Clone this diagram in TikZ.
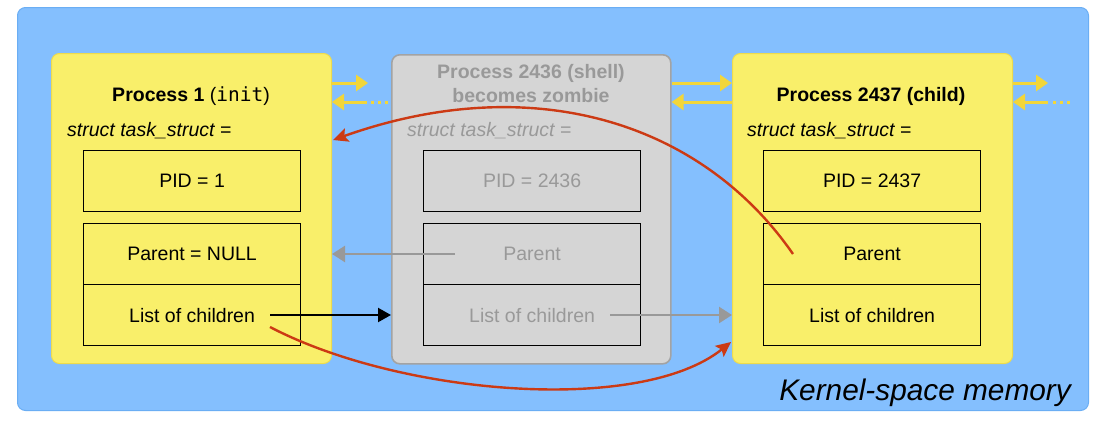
\documentclass[tikz,border=0pt]{standalone}
\usepackage{fontspec}
\setmainfont{Liberation Sans}
\setmonofont{DejaVu Sans Mono}
\usetikzlibrary{arrows.meta}
\definecolor{kblue}{HTML}{84BFFE}
\definecolor{kblueD}{HTML}{6BAEF4}
\definecolor{pyel}{HTML}{F9EF6A}
\definecolor{pyelD}{HTML}{EEDB4C}
\definecolor{yarr}{HTML}{F2D63A}
\definecolor{zgray}{HTML}{D5D5D5}
\definecolor{zgrayD}{HTML}{A3A3A3}
\definecolor{ztext}{HTML}{999999}
\definecolor{rarr}{HTML}{CC3A14}
\tikzset{
  outerbox/.style={fill=kblue, draw=kblueD, line width=1pt, rounded corners=8pt},
  procbox/.style={fill=pyel, draw=pyelD, line width=1pt, rounded corners=8pt, anchor=north west, minimum width=280pt, minimum height=310pt, inner sep=0pt},
  zombiebox/.style={fill=zgray, draw=zgrayD, line width=1.6pt, rounded corners=8pt, anchor=north west, minimum width=279pt, minimum height=309pt, inner sep=0pt},
  field/.style={draw=black, line width=1.2pt, minimum width=217pt, minimum height=61pt, anchor=north west, inner sep=0pt, font=\fontsize{19.5}{23}\selectfont},
  title/.style={font=\fontsize{19.5}{23}\selectfont\bfseries, align=center},
  structlbl/.style={anchor=west, font=\fontsize{19.5}{23}\selectfont\itshape, inner sep=0pt},
  yarrow/.style={draw=yarr, line width=3pt, -{Triangle[length=12pt,width=16pt]}},
  ydots/.style={draw=yarr, line width=3pt, dash pattern=on 3pt off 4pt},
  redarrow/.style={draw=rarr, line width=2.4pt, -{Stealth[length=15pt,width=14pt,inset=3pt]}},
  grayarrow/.style={draw=ztext, line width=2.5pt, -{Triangle[length=13pt,width=16pt]}},
  blackarrow/.style={draw=black, line width=2.2pt, -{Triangle[length=13pt,width=14pt]}},
}
\begin{document}
\begin{tikzpicture}[x=1pt,y=-1pt]
\useasboundingbox (0,0) rectangle (1097,423);
% outer kernel-space area
\node[outerbox, anchor=north west, minimum width=1071pt, minimum height=403pt, inner sep=0pt] (kernel) at (17,7) {};
\node[anchor=base east, font=\fontsize{29.8}{34}\selectfont\itshape, inner sep=0pt] (klabel) at (1071,400) {Kernel-space memory};

% process boxes
\node[procbox] (p1) at (51,53) {};
\node[zombiebox] (p2) at (391,54) {};
\node[procbox] (p3) at (732,53) {};

% titles
\node[title] (t1) at (191,96) {Process 1 \textmd{(}\texttt{\mdseries init}\textmd{)}};
\node[title, text=ztext] (t2a) at (531,73) {Process 2436 (shell)};
\node[title, text=ztext] (t2b) at (531,96) {becomes zombie};
\node[title] (t3) at (871,96) {Process 2437 (child)};

\node[structlbl] (s1) at (67,131) {struct task\_struct =};
\node[structlbl, text=ztext] (s2) at (407,131) {struct task\_struct =};
\node[structlbl] (s3) at (747,131) {struct task\_struct =};

% fields process 1
\node[field] (pid1) at (83,150) {PID = 1};
\node[field] (par1) at (83,223) {Parent = NULL};
\node[field] (ch1) at (83,284) {List of children};
% fields process 2436
\node[field, text=ztext] (pid2) at (423,150) {PID = 2436};
\node[field, text=ztext] (par2) at (423,223) {Parent};
\node[field, text=ztext] (ch2) at (423,284) {List of children};
% fields process 2437
\node[field] (pid3) at (763,150) {PID = 2437};
\node[field] (par3) at (763,223) {Parent};
\node[field] (ch3) at (763,284) {List of children};

% yellow list arrows
\coordinate (a1s) at (331,83);  \coordinate (a1e) at (368,83);
\coordinate (b1s) at (367,102); \coordinate (b1e) at (332,102);
\coordinate (d1s) at (371,102); \coordinate (d1e) at (389,102);
\draw[yarrow] (a1s) -- (a1e);
\draw[yarrow] (b1s) -- (b1e);
\draw[ydots] (d1s) -- (d1e);

\draw[yarrow] (p2.east |- a1s) -- (p3.west |- a1s);
\draw[yarrow] (p3.west |- b1s) -- (p2.east |- b1s);

\coordinate (a3e) at (1048,83);
\coordinate (b3s) at (1048,102);
\coordinate (d3s) at (1053,102); \coordinate (d3e) at (1071,102);
\draw[yarrow] (p3.east |- a1s) -- (a3e);
\draw[yarrow] (b3s) -- (p3.east |- b3s);
\draw[ydots] (d3s) -- (d3e);

% gray arrows
\coordinate (g1s) at (455,254);
\draw[grayarrow] (g1s) -- (p1.east |- g1s);
\coordinate (g2s) at (610,315);
\draw[grayarrow] (g2s) -- (p3.west |- g2s);

% black arrow
\coordinate (k1s) at (270,315);
\draw[blackarrow] (k1s) -- (p2.west |- k1s);

% red arrows
\coordinate (r1s) at (793,254);
\coordinate (r1e) at (333,140);
\draw[redarrow] (r1s) .. controls (700,120) and (530,70) .. (r1e);
\coordinate (r2s) at (270,327);
\coordinate (r2e) at (731,342);
\draw[redarrow] (r2s) .. controls (400,395) and (640,415) .. (r2e);
\end{tikzpicture}
\end{document}
